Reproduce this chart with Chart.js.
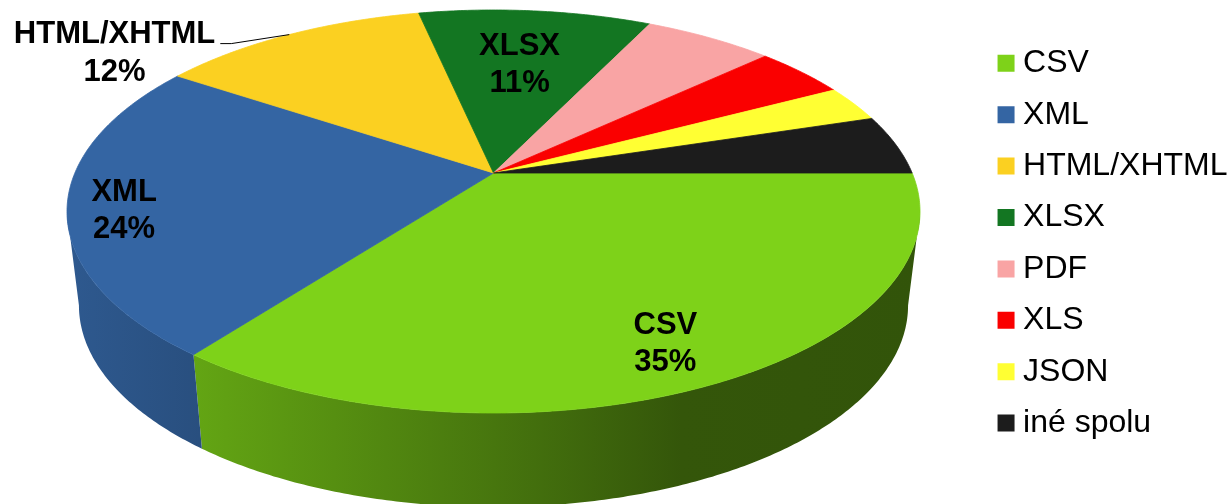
<!DOCTYPE html>
<html>
<head>
<meta charset="utf-8">
<script src="https://cdn.jsdelivr.net/npm/chart.js@4.4.0/dist/chart.umd.min.js"></script>
<style>
  html, body { margin: 0; padding: 0; background: #fff; }
  #wrap { width: 1228px; height: 504px; }
</style>
</head>
<body>
<div id="wrap"><canvas id="chart"></canvas></div>
<script>
const labels = ['CSV', 'XML', 'HTML/XHTML', 'XLSX', 'PDF', 'XLS', 'JSON', 'iné spolu']
const shares = [35.4, 23.9, 12.3, 10.6, 5.9, 4.2, 2.9, 4.8]
const colors = ['#7ed219', '#3465a3', '#fbd021', '#137622', '#f9a4a4', '#fa0000', '#ffff33', '#1c1c1c']

// look of the 3d pie (tilt of the perspective, wall height, where the top ellipse sits)
const TILT = 0.191
const DEPTH = 94
const SHRINK = 0.972
const PIE_BOX = { left: 67, top: 10, w: 853, h: 403 }
const WALL_SHADE = [[0, 0.88], [0.5, 0.56], [0.72, 0.41], [1, 0.40]]
// which slices get a label and where
const labelPlace = {
  'CSV': { r: 0.84, dx: -10, dy: 0 },
  'XML': { r: 0.87, dx: 0, dy: 9 },
  'HTML/XHTML': { outside: true },
  'XLSX': { r: 0.63, dx: -2, dy: 0 }
}

const FONT = "'Liberation Sans', Arial, sans-serif"
Chart.defaults.font.family = FONT

function shade(hex, f) {
  const n = parseInt(hex.slice(1), 16)
  const r = Math.round(((n >> 16) & 255) * f)
  const g = Math.round(((n >> 8) & 255) * f)
  const b = Math.round((n & 255) * f)
  return `rgb(${r},${g},${b})`
}

function pieGeom(chart) {
  const a = chart.chartArea
  const q = Math.sqrt(1 - TILT * TILT)
  const hh = PIE_BOX.h / 2
  return {
    cx: a.left + PIE_BOX.left + PIE_BOX.w / 2,
    cy: a.top + PIE_BOX.top + hh * (1 - TILT),
    A: PIE_BOX.w / 2 * q,
    B: hh * q * q,
    xl: a.left + PIE_BOX.left,
    xr: a.left + PIE_BOX.left + PIE_BOX.w
  }
}

// point on the tilted disc, t = angle from chart.js, r = fraction of radius
function proj(g, t, r = 1) {
  const w = 1 - TILT * r * Math.sin(t)
  return [g.cx + g.A * r * Math.cos(t) / w, g.cy + g.B * r * Math.sin(t) / w]
}

function rimPoints(g, lo, hi) {
  const n = Math.max(2, Math.ceil((hi - lo) / 0.01))
  const pts = []
  for (let j = 0; j <= n; j++) pts.push(proj(g, lo + (hi - lo) * j / n))
  return pts
}

const pie3d = {
  id: 'pie3d',
  beforeDatasetsDraw(chart) {
    const ctx = chart.ctx
    const meta = chart.getDatasetMeta(0)
    const g = pieGeom(chart)
    const vis0 = Math.asin(TILT), vis1 = Math.PI - vis0
    ctx.save()

    // side walls (only the part facing us)
    meta.data.forEach((arc, i) => {
      const lo = Math.max(arc.startAngle, vis0)
      const hi = Math.min(arc.endAngle, vis1)
      if (hi <= lo) return
      const top = rimPoints(g, lo, hi)
      ctx.beginPath()
      top.forEach(([x, y], j) => j ? ctx.lineTo(x, y) : ctx.moveTo(x, y))
      for (let j = top.length - 1; j >= 0; j--) {
        const [x, y] = top[j]
        ctx.lineTo(g.cx + SHRINK * (x - g.cx), y + DEPTH)
      }
      ctx.closePath()
      const grad = ctx.createLinearGradient(g.xl, 0, g.xr, 0)
      WALL_SHADE.forEach(([p, f]) => grad.addColorStop(p, shade(colors[i], f)))
      ctx.fillStyle = grad
      ctx.fill()
    })

    // top faces
    meta.data.forEach((arc, i) => {
      ctx.beginPath()
      ctx.moveTo(g.cx, g.cy)
      rimPoints(g, arc.startAngle, arc.endAngle).forEach(([x, y]) => ctx.lineTo(x, y))
      ctx.closePath()
      ctx.fillStyle = colors[i]
      ctx.strokeStyle = colors[i]
      ctx.lineWidth = 0.8
      ctx.fill()
      ctx.stroke()
    })

    // data labels
    const total = shares.reduce((s, v) => s + v, 0)
    ctx.font = `bold 31px ${FONT}`
    ctx.fillStyle = '#000'
    ctx.textBaseline = 'middle'
    ctx.textAlign = 'center'
    meta.data.forEach((arc, i) => {
      const place = labelPlace[labels[i]]
      if (!place) return
      const mid = (arc.startAngle + arc.endAngle) / 2
      const pct = Math.round(shares[i] / total * 100) + '%'
      if (place.outside) {
        const [ax, ay] = proj(g, mid)
        const right = ax - 74
        const w = ctx.measureText(labels[i]).width
        ctx.fillText(labels[i], right - w / 2, ay)
        ctx.fillText(pct, right - w / 2, ay + 38)
        ctx.beginPath()
        ctx.moveTo(right + 5, ay + 9)
        ctx.lineTo(right + 16, ay + 9)
        ctx.lineTo(ax, ay)
        ctx.strokeStyle = '#000'
        ctx.lineWidth = 1
        ctx.stroke()
      } else {
        const [x, y] = proj(g, mid, place.r)
        ctx.fillText(labels[i], x + place.dx, y + place.dy - 18.5)
        ctx.fillText(pct, x + place.dx, y + place.dy + 18.5)
      }
    })
    ctx.restore()
    return false
  }
}

new Chart(document.getElementById('chart'), {
  type: 'pie',
  data: {
    labels: labels,
    datasets: [{
      data: shares,
      backgroundColor: colors,
      borderWidth: 0
    }]
  },
  options: {
    responsive: true,
    maintainAspectRatio: false,
    animation: false,
    events: [],
    rotation: 90,
    layout: { padding: { left: 0, right: -9.5, top: 0, bottom: 17.6 } },
    plugins: {
      tooltip: { enabled: false },
      legend: {
        position: 'right',
        labels: {
          usePointStyle: true,
          pointStyle: 'rect',
          boxWidth: 2,
          boxHeight: 17,
          padding: 19.4,
          color: '#000',
          font: { size: 32 }
        }
      }
    }
  },
  plugins: [pie3d]
})
</script>
</body>
</html>
